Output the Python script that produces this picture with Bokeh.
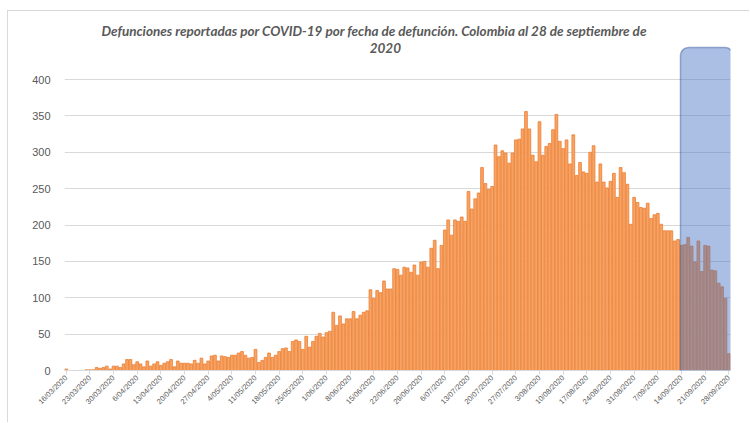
from bokeh.plotting import figure
from bokeh.models import ColumnDataSource, FixedTicker, BoxAnnotation, Range1d, Label
from bokeh.embed import file_html
from bokeh.resources import INLINE
import math

# ---- data ----
deaths = [
    2, 0, 0, 0, 0, 0, 1, 1, 1, 4,
    3, 4, 6, 2, 6, 6, 4, 9, 15, 15,
    8, 12, 9, 5, 13, 6, 9, 12, 7, 10,
    12, 15, 5, 13, 10, 10, 10, 9, 14, 10,
    17, 9, 13, 20, 21, 13, 20, 19, 18, 21,
    21, 24, 26, 21, 17, 18, 29, 11, 14, 18,
    24, 18, 21, 26, 30, 31, 26, 40, 42, 40,
    29, 47, 32, 40, 47, 51, 46, 52, 54, 80,
    62, 75, 64, 71, 71, 81, 71, 76, 80, 82,
    111, 99, 110, 107, 123, 112, 112, 140, 139, 131,
    142, 141, 135, 145, 131, 149, 150, 142, 168, 179,
    140, 172, 193, 207, 186, 207, 205, 211, 205, 246,
    222, 236, 244, 279, 257, 249, 253, 310, 294, 302,
    299, 285, 299, 317, 318, 332, 356, 332, 296, 287,
    342, 296, 308, 312, 331, 352, 315, 305, 317, 284,
    324, 268, 286, 273, 271, 300, 309, 259, 284, 259,
    251, 260, 271, 238, 279, 272, 256, 201, 238, 231,
    224, 223, 230, 209, 214, 216, 201, 192, 192, 192,
    178, 180, 172, 173, 183, 171, 149, 178, 136, 172,
    171, 138, 137, 120, 115, 99, 23,
]
tick_labels = [
    "16/03/2020", "23/03/2020", "30/03/2020", "6/04/2020", "13/04/2020",
    "20/04/2020", "27/04/2020", "4/05/2020", "11/05/2020", "18/05/2020",
    "25/05/2020", "1/06/2020", "8/06/2020", "15/06/2020", "22/06/2020",
    "29/06/2020", "6/07/2020", "13/07/2020", "20/07/2020", "27/07/2020",
    "3/08/2020", "10/08/2020", "17/08/2020", "24/08/2020", "31/08/2020",
    "7/09/2020", "14/09/2020", "21/09/2020", "28/09/2020",
]
y_ticks = [0, 50, 100, 150, 200, 250, 300, 350, 400]
tick_step = 7
highlight_start = 181.7   # highlighted (incomplete) period, in day index
highlight_end = 197.3
highlight_top = 444

title_line1 = "Defunciones reportadas por COVID-19 por fecha de defunción. Colombia al 28 de septiembre de"
title_line2 = "2020"

n = len(deaths)
src = ColumnDataSource(dict(x=list(range(n)), y=deaths))

p = figure(width=742, height=412, output_backend="svg", toolbar_location=None,
           x_range=Range1d(-0.5, n - 0.5), y_range=Range1d(0, 493.5),
           min_border_left=56, min_border_right=20, min_border_bottom=53, min_border_top=0)
p.outline_line_color = None
p.background_fill_color = "white"
p.border_fill_color = "white"
p.styles = {"margin-left": "7px", "margin-top": "10px",
            "border-top": "1px solid #D9D9D9", "border-left": "1px solid #D9D9D9"}

p.vbar(x="x", top="y", width=0.82, source=src, fill_color="#F6A465",
       line_color="#ED7D31", line_width=0.8)

# title (two centred lines)
title_style = dict(text_font="Lato", text_font_style="bold italic", text_font_size="13.5px",
                   text_color="#595959", text_align="center", text_baseline="middle")
p.add_layout(Label(x=91.1, y=467, text=title_line1, **title_style))
p.add_layout(Label(x=94.4, y=443, text=title_line2, **title_style))

# axes
p.yaxis.ticker = FixedTicker(ticks=y_ticks)
p.yaxis.axis_line_color = None
p.yaxis.major_tick_line_color = None
p.yaxis.minor_tick_line_color = None
p.yaxis.major_label_text_color = "#595959"
p.yaxis.major_label_text_font = "Liberation Sans"
p.yaxis.major_label_text_font_size = "11px"
p.yaxis.major_label_standoff = 8

ticks = [i * tick_step for i in range(len(tick_labels))]
p.xaxis.ticker = FixedTicker(ticks=ticks)
p.xaxis.major_label_overrides = {t: lab for t, lab in zip(ticks, tick_labels)}
p.xaxis.major_label_orientation = math.pi / 4
p.xaxis.major_label_text_font_size = "7.5px"
p.xaxis.major_label_text_font = "Liberation Sans"
p.xaxis.major_label_text_color = "#595959"
p.xaxis.axis_line_color = "#D9D9D9"
p.xaxis.major_tick_line_color = "#D9D9D9"
p.xaxis.major_tick_out = 4
p.xaxis.major_tick_in = 0
p.xaxis.minor_tick_line_color = None
p.xaxis.major_label_standoff = 2

p.xgrid.grid_line_color = None
p.ygrid.grid_line_color = "#D9D9D9"
p.ygrid.grid_line_width = 1

box = BoxAnnotation(left=highlight_start, right=highlight_end, top=highlight_top, bottom=-300,
                    fill_color="#4472C4", fill_alpha=0.45, line_color="#2F5597",
                    line_alpha=0.45, line_width=1.5, border_radius=8)
p.add_layout(box)

open("out.html", "w").write(file_html(p, INLINE))
